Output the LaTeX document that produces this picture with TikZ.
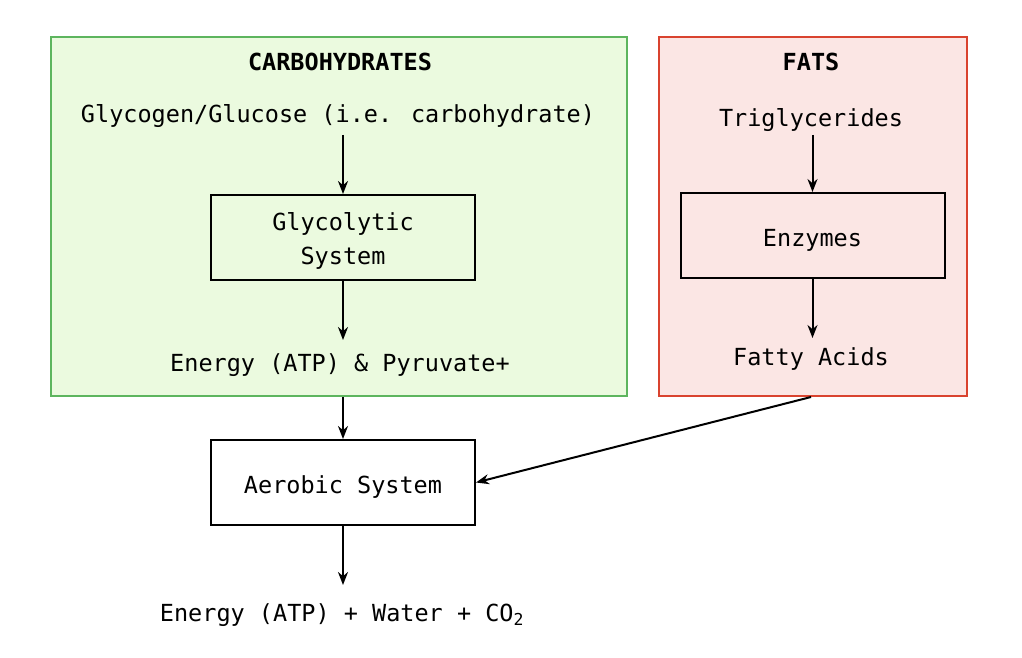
\documentclass[tikz,border=0pt]{standalone}
\usepackage{fontspec}
\setmainfont{DejaVu Sans Mono}
\usetikzlibrary{arrows.meta}
\definecolor{gfill}{HTML}{EBFADF}
\definecolor{gdraw}{HTML}{5DB55E}
\definecolor{rfill}{HTML}{FBE6E4}
\definecolor{rdraw}{HTML}{D9432F}
\begin{document}
\begin{tikzpicture}[x=1pt,y=-1pt,
  every node/.style={font=\fontsize{23.5}{34}\selectfont, inner sep=0pt},
  grp/.style={draw=#1, line width=2pt, anchor=north west},
  stepbox/.style={draw=black, line width=2pt, minimum width=264pt, minimum height=85pt},
  lbl/.style={minimum height=42pt, align=center},
  conn/.style={line width=2pt, -{Stealth[length=13pt,width=10pt]}}]
\useasboundingbox (0,0) rectangle (1022,658);
\fill[white] (0,0) rectangle (1022,658);
% group boxes
\node[grp=gdraw, fill=gfill, minimum width=576pt, minimum height=359pt] (carb) at (50,36) {};
\node[grp=rdraw, fill=rfill, minimum width=308pt, minimum height=359pt] (fats) at (658,36) {};
% carbohydrates
\node[font=\fontsize{23.5}{34}\selectfont\bfseries] (carbt) at (340,62) {CARBOHYDRATES};
\node[lbl] (glyc) at (338,116) {Glycogen/Glucose (i.e. carbohydrate)};
\node[stepbox] (gsys) at (343,237.5) {};
\node[align=center] (gsyst) at (343,241) {Glycolytic\\System};
\node[lbl] (enp) at (340,365) {Energy (ATP) \& Pyruvate+};
% fats
\node[font=\fontsize{23.5}{34}\selectfont\bfseries] (fatst) at (811,62) {FATS};
\node[lbl] (tri) at (811,120) {Triglycerides};
\node[stepbox] (enz) at (812.5,235.5) {};
\node (enzt) at (812.5,240) {Enzymes};
\node[lbl] (fa) at (811,359) {Fatty Acids};
% aerobic
\node[stepbox] (aer) at (343,482.5) {};
\node (aert) at (343,487) {Aerobic System};
\node[minimum height=56pt] (out) at (342,615) {Energy (ATP) + Water + CO\textsubscript{2}};
% connectors
\draw[conn] (gsys.north |- 0,135) -- (gsys.north);
\draw[conn] (gsys.south) -- (gsys.south |- 0,340);
\draw[conn] (aer.north |- carb.south) -- (aer.north);
\draw[conn] (aer.south) -- (aer.south |- 0,585);
\draw[conn] (enz.north |- 0,135) -- (enz.north);
\draw[conn] (enz.south) -- (enz.south |- 0,338);
\draw[conn] (fa.south |- fats.south) -- (aer.east);
\end{tikzpicture}
\end{document}
